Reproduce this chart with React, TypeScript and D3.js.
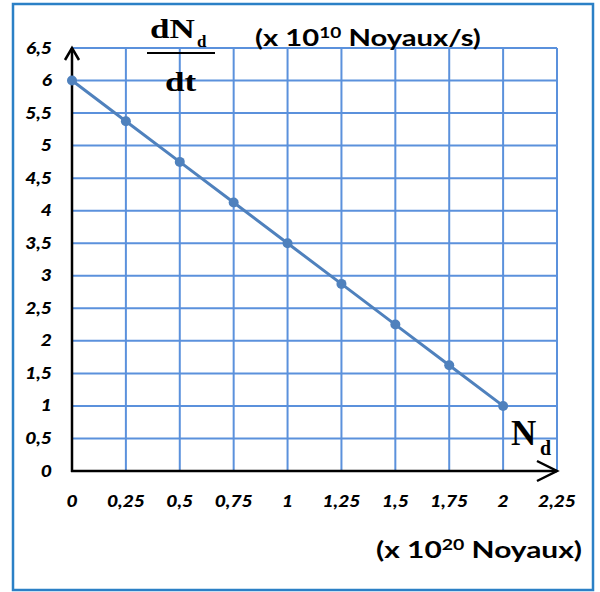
import React from "react";
import * as d3 from "d3";

// Nuclei count (x 10^20) and decay rate dN/dt (x 10^10 /s)
const nValues = [0, 0.25, 0.5, 0.75, 1, 1.25, 1.5, 1.75, 2];
const rateValues = [6, 5.375, 4.75, 4.125, 3.5, 2.875, 2.25, 1.625, 1];
const xTicks = [0, 0.25, 0.5, 0.75, 1, 1.25, 1.5, 1.75, 2, 2.25];
const yTicks = [0, 0.5, 1, 1.5, 2, 2.5, 3, 3.5, 4, 4.5, 5, 5.5, 6, 6.5];

const W = 600;
const H = 592;
const left = 72;
const right = 557;
const top = 48;
const bottom = 471;

const gridColor = "#5b91dc";
const lineColor = "#4f81bd";
const sansFont = "Lato, 'Open Sans', sans-serif";
const serifFont = "'Liberation Serif', 'Times New Roman', serif";
const stretch = 1.2;

const fmt = (v: number) => String(v).replace(".", ",");

// Text drawn slightly widened horizontally around its anchor point
function Wide({
  x,
  y,
  sx = stretch,
  children,
  ...rest
}: {
  x: number;
  y: number;
  sx?: number;
  children: React.ReactNode;
  [k: string]: any;
}) {
  return (
    <g transform={`translate(${x},${y}) scale(${sx},1)`}>
      <text x={0} y={0} {...rest}>
        {children}
      </text>
    </g>
  );
}

export default function App() {
  const x = d3.scaleLinear().domain([0, 2.25]).range([left, right]);
  const y = d3.scaleLinear().domain([0, 6.5]).range([bottom, top]);
  const line = d3
    .line<number>()
    .x((_, i) => x(nValues[i]))
    .y((d) => y(d));

  return (
    <svg
      width={W}
      height={H}
      style={{ position: "absolute", left: 0, top: 0, background: "#fff" }}
    >
      <rect x={13} y={4} width={580} height={586} fill="#fff" stroke="#2b80c6" strokeWidth={2.5} />

      {/* grid */}
      {xTicks.slice(1).map((t) => (
        <line key={"gx" + t} x1={x(t)} x2={x(t)} y1={top} y2={bottom} stroke={gridColor} strokeWidth={2} />
      ))}
      {yTicks.slice(1).map((t) => (
        <line key={"gy" + t} x1={left} x2={right} y1={y(t)} y2={y(t)} stroke={gridColor} strokeWidth={2} />
      ))}

      {/* axes with arrows */}
      <line x1={left} x2={left} y1={bottom + 1} y2={top} stroke="#000" strokeWidth={2.5} />
      <line x1={left - 1} x2={right} y1={bottom} y2={bottom} stroke="#000" strokeWidth={2.5} />
      <polyline
        points={`${left - 7},${top + 12} ${left},${top} ${left + 7},${top + 12}`}
        fill="none"
        stroke="#000"
        strokeWidth={2.5}
      />
      <polyline
        points={`${right - 20},${bottom - 10} ${right},${bottom} ${right - 20},${bottom + 10}`}
        fill="none"
        stroke="#000"
        strokeWidth={2.5}
      />

      {/* tick labels */}
      {yTicks.map((t) => (
        <Wide
          key={"ty" + t}
          x={52}
          y={y(t) + 5.5}
          textAnchor="end"
          fontFamily={sansFont}
          fontWeight="900"
          fontStyle="italic"
          fontSize={16}
          fill="#000"
        >
          {fmt(t)}
        </Wide>
      ))}
      {xTicks.map((t) => (
        <Wide
          key={"tx" + t}
          x={x(t)}
          y={507}
          textAnchor="middle"
          fontFamily={sansFont}
          fontWeight="900"
          fontStyle="italic"
          fontSize={16}
          fill="#000"
        >
          {fmt(t)}
        </Wide>
      ))}

      {/* data */}
      <path d={line(rateValues) ?? ""} fill="none" stroke={lineColor} strokeWidth={3} />
      {rateValues.map((v, i) => (
        <circle key={"p" + i} cx={x(nValues[i])} cy={y(v)} r={5} fill={lineColor} />
      ))}

      {/* y-axis title: dN_d / dt */}
      <g fontFamily={serifFont} fontWeight="bold" fill="#000">
        <Wide x={150} y={38} sx={1.3} fontSize={27}>dN</Wide>
        <text x={197} y={47} fontSize={17}>d</text>
        <line x1={147} x2={215} y1={53} y2={53} stroke="#000" strokeWidth={2} />
        <Wide x={165} y={91} sx={1.3} fontSize={27}>dt</Wide>
      </g>
      <Wide x={255} y={46} sx={1.27} fontFamily={sansFont} fontWeight="bold" fontSize={23} fill="#000">
        (x 10
        <tspan dy={-8} fontSize={15}>10</tspan>
        <tspan dy={8}> Noyaux/s)</tspan>
      </Wide>

      {/* x-axis title */}
      <g fontFamily={serifFont} fontWeight="bold" fill="#000">
        <text x={511} y={445} fontSize={35}>N</text>
        <text x={540} y={455} fontSize={20}>d</text>
      </g>
      <Wide x={376} y={558} sx={1.3} fontFamily={sansFont} fontWeight="bold" fontSize={23} fill="#000">
        (x 10
        <tspan dy={-8} fontSize={15}>20</tspan>
        <tspan dy={8}> Noyaux)</tspan>
      </Wide>
    </svg>
  );
}
